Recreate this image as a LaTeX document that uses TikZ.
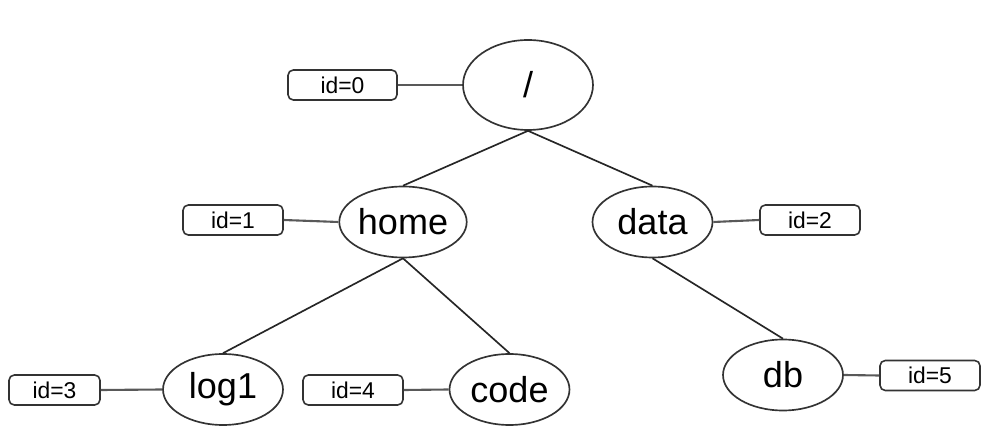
\documentclass[tikz,border=0pt]{standalone}
\usepackage{fontspec}
\setmainfont{Liberation Sans}
\usetikzlibrary{shapes.geometric}
\tikzset{
  dirnode/.style={ellipse, draw=black!80, line width=0.95pt, fill=white, inner sep=0pt,
    minimum width=2.4cm, minimum height=1.42cm, font=\fontsize{20.5}{24}\selectfont},
  idbox/.style={rectangle, rounded corners=3pt, draw=black!80, line width=0.9pt, fill=white,
    inner sep=0pt, minimum width=2cm, minimum height=0.6cm, font=\fontsize{13}{15}\selectfont},
  treeedge/.style={draw=black!85, line width=0.95pt},
  idedge/.style={draw=black!65, line width=1.2pt}
}
\begin{document}
\begin{tikzpicture}[x=0.02cm, y=-0.02cm]
\useasboundingbox (0,0) rectangle (1000,445);
\node[dirnode, minimum width=2.6cm, minimum height=1.8cm] (root) at (528,85) {/};
\node[dirnode] (home) at (403,222) {home};
\node[dirnode] (data) at (652.5,222) {data};
\node[dirnode] (log1) at (223,389.5) {log1};
\node[dirnode] (code) at (509.5,389.5) {code};
\node[dirnode] (db) at (783,375) {db};
\node[idbox, minimum width=2.18cm] (id0) at (342.5,85) {id=0};
\node[idbox] (id1) at (233,220) {id=1};
\node[idbox] (id2) at (810,220) {id=2};
\node[idbox, minimum width=1.82cm] (id3) at (54.5,390) {id=3};
\node[idbox] (id4) at (353,390) {id=4};
\node[idbox] (id5) at (930,375.5) {id=5};
\draw[treeedge] (root.south) -- (home.north);
\draw[treeedge] (root.south) -- (data.north);
\draw[treeedge] (home.south) -- (log1.north);
\draw[treeedge] (home.south) -- (code.north);
\draw[treeedge] (data.south) -- (db.north);
\draw[idedge] (id0.east) -- (root.west);
\draw[idedge] (id1.east) -- (home.west);
\draw[idedge] (data.east) -- (id2.west);
\draw[idedge] (id3.east) -- (log1.west);
\draw[idedge] (id4.east) -- (code.west);
\draw[idedge] (db.east) -- (id5.west);
\end{tikzpicture}
\end{document}
